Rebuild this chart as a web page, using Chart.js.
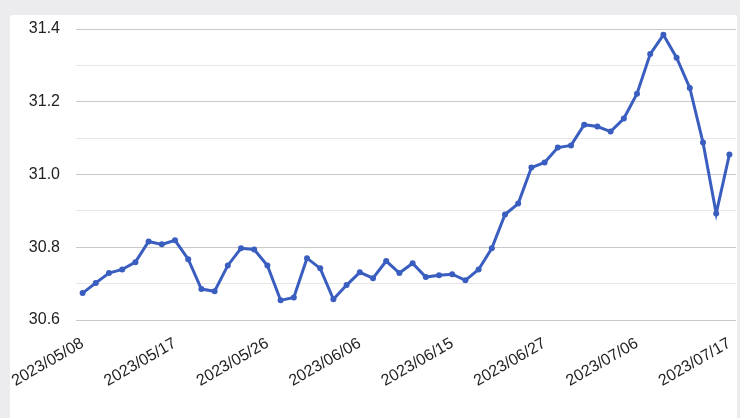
<!DOCTYPE html>
<html>
<head>
<meta charset="utf-8">
<script src="https://cdn.jsdelivr.net/npm/chart.js@4/dist/chart.umd.min.js"></script>
<style>
  html, body { margin: 0; padding: 0; }
  body { width: 740px; height: 418px; background: #ececee; position: relative; overflow: hidden; }
  #card { position: absolute; left: 10px; top: 15px; width: 727px; height: 410px; background: #fff; border-radius: 3px; }
  #wrap { position: absolute; left: 0; top: 0; width: 740px; height: 418px; }
</style>
</head>
<body>
<div id="card"></div>
<div id="wrap"><canvas id="rateChart" width="740" height="418"></canvas></div>
<script>
// trading days, 2023/05/08 - 2023/07/17
var dates = [
  "2023/05/08","2023/05/09","2023/05/10","2023/05/11","2023/05/12","2023/05/15","2023/05/16",
  "2023/05/17","2023/05/18","2023/05/19","2023/05/22","2023/05/23","2023/05/24","2023/05/25",
  "2023/05/26","2023/05/29","2023/05/30","2023/05/31","2023/06/01","2023/06/02","2023/06/05",
  "2023/06/06","2023/06/07","2023/06/08","2023/06/09","2023/06/12","2023/06/13","2023/06/14",
  "2023/06/15","2023/06/16","2023/06/19","2023/06/20","2023/06/21","2023/06/23","2023/06/26",
  "2023/06/27","2023/06/28","2023/06/29","2023/06/30","2023/07/03","2023/07/04","2023/07/05",
  "2023/07/06","2023/07/07","2023/07/10","2023/07/11","2023/07/12","2023/07/13","2023/07/14",
  "2023/07/17"
];

var rates = [
  30.674, 30.702, 30.729, 30.739, 30.759, 30.816, 30.808,
  30.819, 30.767, 30.685, 30.679, 30.750, 30.797, 30.794,
  30.750, 30.654, 30.662, 30.770, 30.742, 30.657, 30.696,
  30.731, 30.715, 30.762, 30.729, 30.756, 30.718, 30.723,
  30.726, 30.709, 30.739, 30.797, 30.890, 30.920, 31.019,
  31.033, 31.074, 31.080, 31.137, 31.132, 31.118, 31.154,
  31.222, 31.331, 31.384, 31.321, 31.238, 31.088, 30.893,
  31.055
];

var labelEvery = 7;
var yMin = 30.6, yMax = 31.4;

var ctx = document.getElementById("rateChart");
var rateChart = new Chart(ctx, {
  type: 'line',
  data: {
    labels: dates,
    datasets: [{
      label: "USD/TWD",
      data: rates,
      borderColor: "#3a5ec0",
      backgroundColor: "#3a5ec0",
      borderWidth: 3,
      pointRadius: 3,
      pointBorderWidth: 0,
      tension: 0,
      fill: false
    }]
  },
  options: {
    responsive: false,
    animation: false,
    layout: { padding: { top: 29, right: 4, left: 0, bottom: 0 } },
    plugins: { legend: { display: false }, tooltip: { enabled: false } },
    scales: {
      x: {
        offset: true,
        grid: { display: false },
        border: { display: false },
        ticks: {
          autoSkip: false,
          minRotation: 30,
          maxRotation: 30,
          padding: 6,
          color: "#222",
          font: { family: "Liberation Sans", size: 16 },
          callback: function(val, i) {
            return i % labelEvery === 0 ? dates[i] : "";
          }
        },
        afterFit: function(scale) {
          scale.height = 98;
          scale.paddingRight = 0;
          scale.paddingLeft = 0;
        }
      },
      y: {
        min: yMin,
        max: yMax,
        border: { display: false },
        grid: {
          drawTicks: false,
          lineWidth: 1,
          color: function(c) {
            var v = Math.round(c.tick.value * 10);
            return v % 2 === 0 ? "#c9c9c9" : "#e6e6e6";
          }
        },
        ticks: {
          stepSize: 0.1,
          padding: 16,
          color: "#222",
          font: { family: "Liberation Sans", size: 16 },
          callback: function(val) {
            var v = Math.round(val * 10);
            return v % 2 === 0 ? (v / 10).toFixed(1) : "";
          }
        },
        afterFit: function(scale) { scale.width = 76; }
      }
    }
  }
});
</script>
</body>
</html>
